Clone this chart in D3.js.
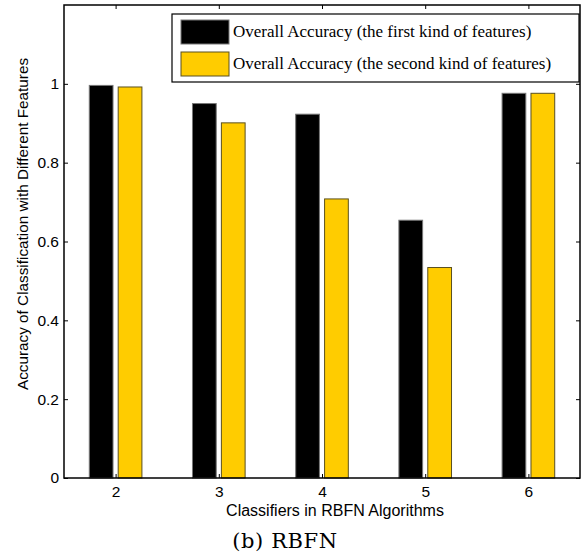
<!DOCTYPE html>
<html>
<head>
<meta charset="utf-8">
<script src="https://cdn.jsdelivr.net/npm/d3@7"></script>
<style>
  body { margin: 0; background: #fff; }
  svg { display: block; }
</style>
</head>
<body>
<div id="chart"></div>
<script>
// data
const classifiers = ["2", "3", "4", "5", "6"];
const firstFeatures = [0.996, 0.950, 0.923, 0.654, 0.976];
const secondFeatures = [0.992, 0.901, 0.708, 0.534, 0.976];
const seriesNames = [
    "Overall Accuracy (the first kind of features)",
    "Overall Accuracy (the second kind of features)"
];
const yTicks = [0, 0.2, 0.4, 0.6, 0.8, 1];

const width = 587, height = 555;
const margin = { left: 64, right: 7, top: 5, bottom: 77 };
const plotW = width - margin.left - margin.right;
const plotH = height - margin.top - margin.bottom;

const svg = d3.select("#chart")
    .append("svg")
    .attr("width", width)
    .attr("height", height);

const g = svg.append("g")
    .attr("transform", `translate(${margin.left},${margin.top})`);

// groups sit at 1..5, labelled with the classifier count
const x = d3.scaleLinear().domain([0.5, 5.5]).range([0, plotW]);
const y = d3.scaleLinear().domain([0, 1.2]).range([plotH, 0]);

const barW = 0.23;
const offsets = [-0.14, 0.14];
const colors = ["#000000", "#ffcc00"];
const edges = ["#777777", "#5a5020"];

[firstFeatures, secondFeatures].forEach((vals, s) => {
    g.selectAll(".bar" + s)
        .data(vals)
        .join("rect")
        .attr("x", (d, i) => x(i + 1 + offsets[s] - barW / 2))
        .attr("width", x(barW) - x(0))
        .attr("y", d => y(d))
        .attr("height", d => y(0) - y(d))
        .attr("fill", colors[s])
        .attr("stroke", edges[s])
        .attr("stroke-width", 1);
});

// frame
g.append("rect")
    .attr("width", plotW)
    .attr("height", plotH)
    .attr("fill", "none")
    .attr("stroke", "#000")
    .attr("stroke-width", 1.5);

// ticks point inward on all four sides
const groupIdx = classifiers.map((c, i) => i + 1);
const axBottom = g.append("g")
    .attr("transform", `translate(0,${plotH})`)
    .call(d3.axisBottom(x).tickValues(groupIdx).tickSize(-4).tickPadding(8).tickFormat(d => classifiers[d - 1]));
const axTop = g.append("g")
    .call(d3.axisTop(x).tickValues(groupIdx).tickSize(-4).tickFormat(""));
const axLeft = g.append("g")
    .call(d3.axisLeft(y).tickValues(yTicks).tickSize(-4).tickPadding(5).tickFormat(d => d3.format("")(+d.toFixed(1))));
const axRight = g.append("g")
    .attr("transform", `translate(${plotW},0)`)
    .call(d3.axisRight(y).tickValues(yTicks).tickSize(-4).tickFormat(""));

[axBottom, axTop, axLeft, axRight].forEach(a => {
    a.select(".domain").remove();
    a.selectAll("line").attr("stroke", "#000");
    a.selectAll("text")
        .attr("fill", "#000")
        .style("font-family", "Liberation Sans, Arial, sans-serif")
        .style("font-size", "15.5px");
});

// axis titles
svg.append("text")
    .attr("transform", "translate(28,224) rotate(-90)")
    .attr("text-anchor", "middle")
    .style("font-family", "Liberation Sans, Arial, sans-serif")
    .style("font-size", "15.3px")
    .text("Accuracy of Classification with Different Features");

svg.append("text")
    .attr("x", 335)
    .attr("y", 516)
    .attr("text-anchor", "middle")
    .style("font-family", "Liberation Sans, Arial, sans-serif")
    .style("font-size", "16px")
    .text("Classifiers in RBFN Algorithms");

svg.append("text")
    .attr("x", 285)
    .attr("y", 548)
    .attr("text-anchor", "middle")
    .style("font-family", "DejaVu Serif, serif")
    .style("font-size", "21px")
    .style("letter-spacing", "0.6px")
    .text("(b) RBFN");

// legend
const legend = svg.append("g").attr("transform", "translate(172,14)");
legend.append("rect")
    .attr("width", 407)
    .attr("height", 68)
    .attr("fill", "#fff")
    .attr("stroke", "#000")
    .attr("stroke-width", 1.2);
const items = legend.selectAll(".item")
    .data(seriesNames)
    .join("g")
    .attr("transform", (d, i) => `translate(9,${6 + i * 32})`);
items.append("rect")
    .attr("width", 48)
    .attr("height", 24)
    .attr("fill", (d, i) => colors[i])
    .attr("stroke", (d, i) => edges[i]);
items.append("text")
    .attr("x", 52)
    .attr("y", 17)
    .style("font-family", "Liberation Serif, Times New Roman, serif")
    .style("font-size", "17px")
    .text(d => d);
</script>
</body>
</html>
